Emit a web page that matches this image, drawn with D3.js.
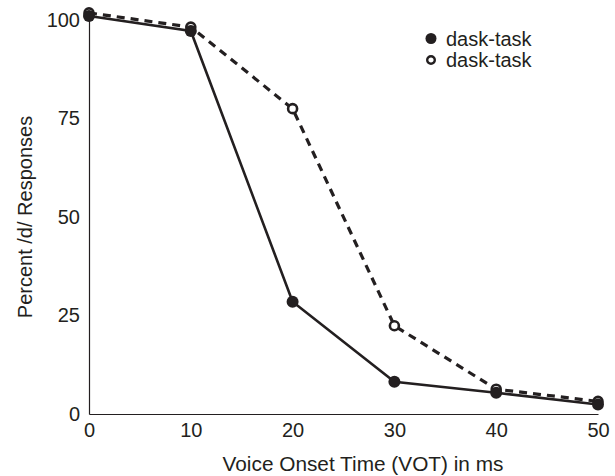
<!DOCTYPE html>
<html>
<head>
<meta charset="utf-8">
<script src="https://cdn.jsdelivr.net/npm/d3@7"></script>
<style>
  body { margin: 0; background: #fff; }
  text { font-family: "Liberation Sans", Arial, sans-serif; fill: #231f20; }
</style>
</head>
<body>
<svg width="615" height="476"></svg>
<script>
// VOT steps (ms)
var vot = [0, 10, 20, 30, 40, 50];
// percent /d/ responses, filled markers / solid line
var solidSeries = [101, 97.2, 28.5, 8.2, 5.4, 2.4];
// percent /d/ responses, open markers / dashed line
var dashedSeries = [101.8, 98.2, 77.5, 22.4, 6.3, 3.2];
var yTicks = [0, 25, 50, 75, 100];
var legendLabels = ["dask-task", "dask-task"];

var svg = d3.select("svg");
var ink = "#231f20";

var x = d3.scaleLinear().domain([0, 50]).range([89, 598]);
var y = d3.scaleLinear().domain([0, 100]).range([414, 20]);

// axes: plain lines, no tick marks
var xAxis = svg.append("g")
  .attr("transform", "translate(0," + y(0) + ")")
  .call(d3.axisBottom(x).tickValues(vot).tickSize(0).tickPadding(9));
var yAxis = svg.append("g")
  .attr("transform", "translate(" + x(0) + ",0)")
  .call(d3.axisLeft(y).tickValues(yTicks).tickSize(0).tickPadding(9));

[xAxis, yAxis].forEach(function(a) {
  a.select(".domain").attr("stroke", ink).attr("stroke-width", 1.2);
  a.selectAll("text")
    .attr("font-size", 20)
    .attr("font-family", "Liberation Sans, Arial, sans-serif")
    .attr("fill", ink);
});

function pts(vals) {
  return vot.map(function(v, i) { return [v, vals[i]]; });
}

var line = d3.line()
  .x(function(d) { return x(d[0]); })
  .y(function(d) { return y(d[1]); });

svg.append("path")
  .datum(pts(dashedSeries))
  .attr("d", line)
  .attr("fill", "none")
  .attr("stroke", ink)
  .attr("stroke-width", 3.2)
  .attr("stroke-dasharray", "8,6");

svg.append("path")
  .datum(pts(solidSeries))
  .attr("d", line)
  .attr("fill", "none")
  .attr("stroke", ink)
  .attr("stroke-width", 2.6);

svg.append("g")
  .selectAll("circle")
  .data(pts(dashedSeries))
  .enter()
  .append("circle")
  .attr("cx", function(d) { return x(d[0]); })
  .attr("cy", function(d) { return y(d[1]); })
  .attr("r", 4.5)
  .attr("fill", "#fff")
  .attr("stroke", ink)
  .attr("stroke-width", 2.6);

svg.append("g")
  .selectAll("circle")
  .data(pts(solidSeries))
  .enter()
  .append("circle")
  .attr("cx", function(d) { return x(d[0]); })
  .attr("cy", function(d) { return y(d[1]); })
  .attr("r", 6)
  .attr("fill", ink);

// legend
var legend = svg.append("g").attr("transform", "translate(431,38.5)");
legendLabels.forEach(function(lbl, i) {
  var g = legend.append("g").attr("transform", "translate(0," + (i * 21.5) + ")");
  if (i === 0) {
    g.append("circle").attr("r", 5.5).attr("fill", ink);
  } else {
    g.append("circle").attr("r", 3.8).attr("fill", "#fff")
      .attr("stroke", ink).attr("stroke-width", 2.4);
  }
  g.append("text")
    .attr("x", 15)
    .attr("dy", "0.35em")
    .attr("font-size", 20)
    .text(lbl);
});

// axis titles
svg.append("text")
  .attr("x", 363)
  .attr("y", 471)
  .attr("text-anchor", "middle")
  .attr("font-size", 20.8)
  .text("Voice Onset Time (VOT) in ms");

svg.append("text")
  .attr("transform", "translate(32," + y(50) + ") rotate(-90)")
  .attr("text-anchor", "middle")
  .attr("font-size", 20)
  .text("Percent /d/ Responses");
</script>
</body>
</html>
